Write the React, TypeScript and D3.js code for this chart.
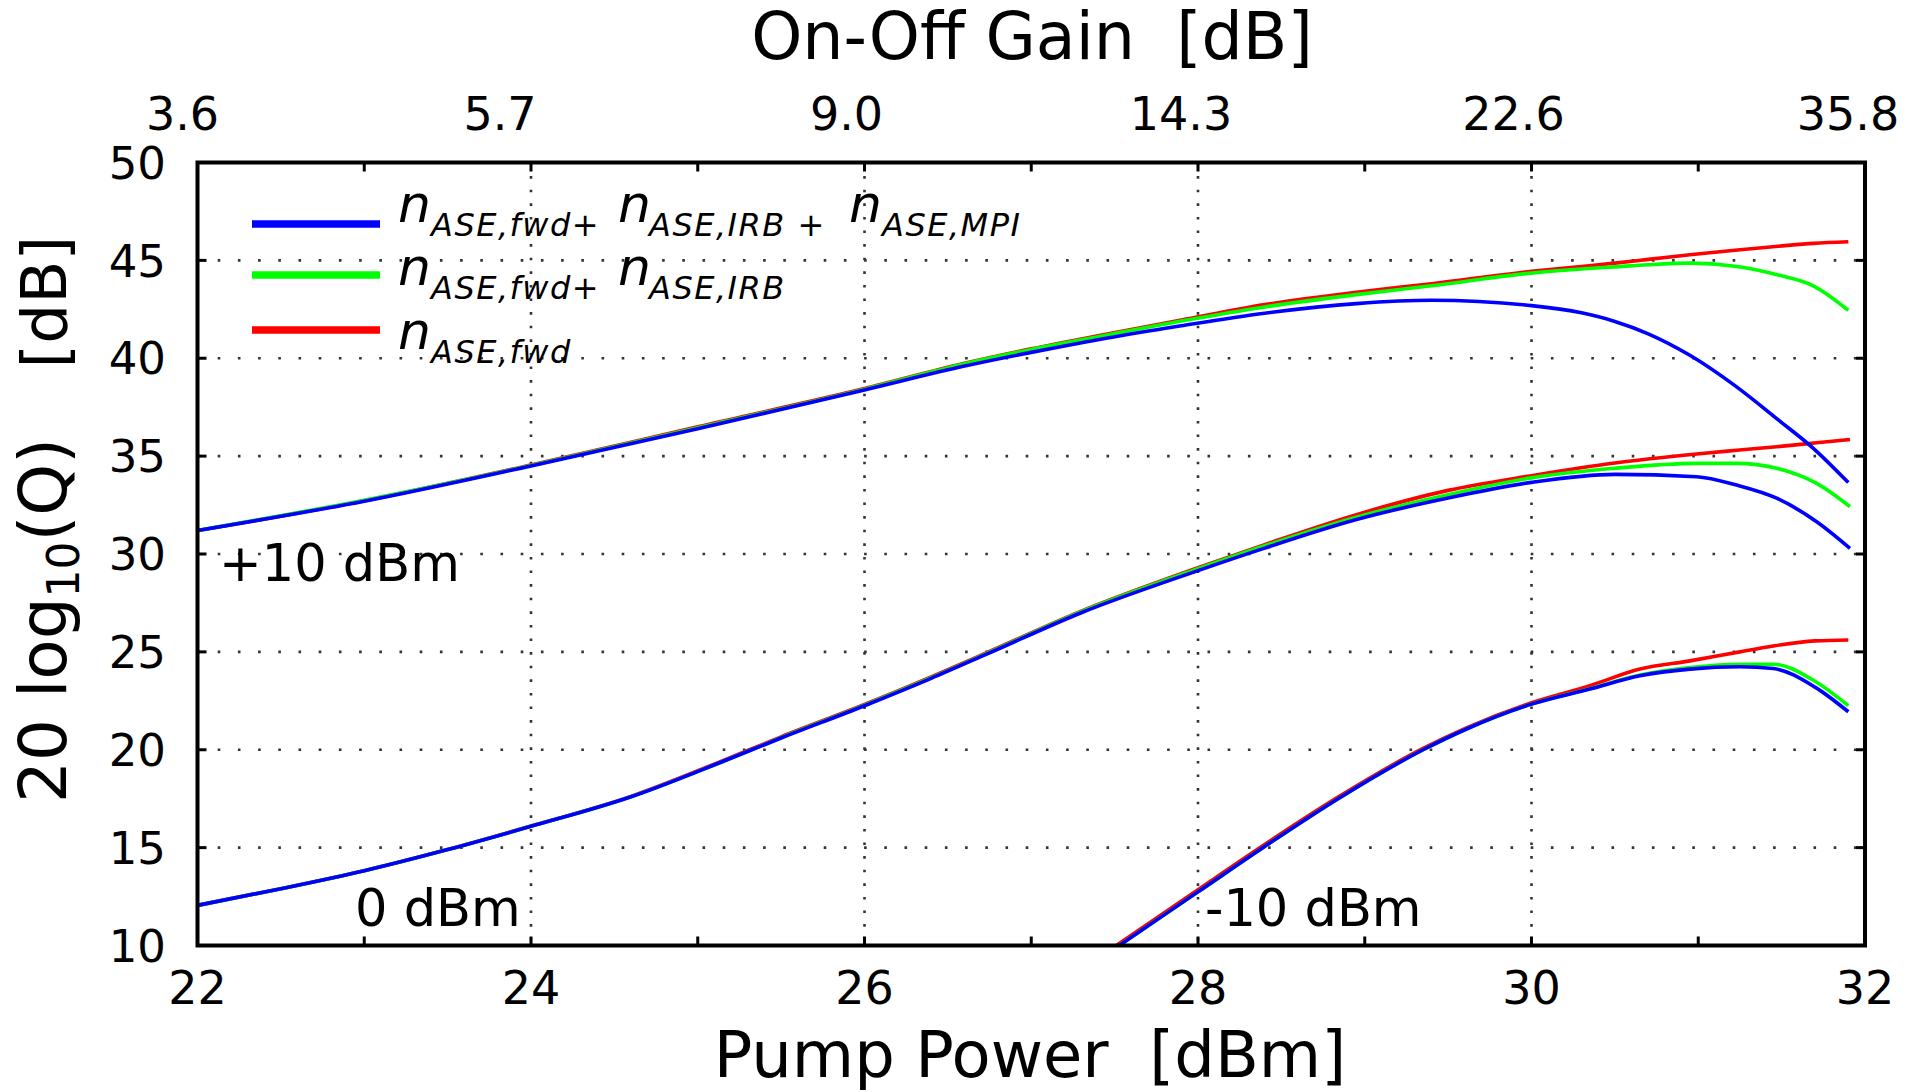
import React from 'react';
import * as d3 from 'd3';

const W = 1923;
const H = 1092;

// axes
const pumpLabelTicks = [22, 24, 26, 28, 30, 32];
const pumpMinorTicks = [22, 23, 24, 25, 26, 27, 28, 29, 30, 31, 32];
const gainLabels = ['3.6', '5.7', '9.0', '14.3', '22.6', '35.8'];
const qTicks = [10, 15, 20, 25, 30, 35, 40, 45, 50];
const qGrid = [15, 20, 25, 30, 35, 40, 45];
const pumpGrid = [24, 26, 28, 30];

// +10 dBm signal
const pumpHigh = [22, 23, 24, 25, 26, 26.6, 27, 27.4, 27.9, 28.4, 28.95, 29.4, 30, 30.3, 30.5, 30.7, 30.95, 31.22, 31.48, 31.69, 31.9];
const qHighAll = [31.2, 32.7, 34.5, 36.4, 38.38, 39.6, 40.3, 40.95, 41.66, 42.3, 42.79, 42.96, 42.69, 42.32, 41.88, 41.25, 40.15, 38.6, 36.85, 35.4, 33.65];
const qHighIrb = [31.2, 32.75, 34.52, 36.45, 38.42, 39.72, 40.45, 41.1, 41.9, 42.62, 43.25, 43.7, 44.35, 44.56, 44.67, 44.78, 44.86, 44.7, 44.25, 43.7, 42.45];
const qHighFwd = [31.2, 32.72, 34.55, 36.5, 38.45, 39.74, 40.48, 41.15, 41.95, 42.74, 43.37, 43.81, 44.44, 44.69, 44.86, 45.05, 45.29, 45.52, 45.72, 45.87, 45.95];

// 0 dBm signal
const pumpMid = [22, 22.5, 23, 23.5, 24, 24.6, 25.15, 25.5, 26, 26.4, 26.75, 27.3, 28, 28.4, 28.95, 29.5, 30, 30.5, 30.99, 31.23, 31.47, 31.71, 31.91];
const qMidAll = [12.05, 12.9, 13.82, 14.9, 16.09, 17.6, 19.4, 20.6, 22.25, 23.65, 24.95, 27.0, 29.15, 30.3, 31.76, 32.86, 33.66, 34.07, 33.95, 33.52, 32.85, 31.65, 30.29];
const qMidIrb = [12.05, 12.9, 13.82, 14.9, 16.09, 17.6, 19.4, 20.62, 22.28, 23.68, 24.98, 27.05, 29.25, 30.42, 31.88, 33.03, 33.89, 34.38, 34.63, 34.63, 34.38, 33.61, 32.42];
const qMidFwd = [12.05, 12.9, 13.82, 14.9, 16.1, 17.62, 19.44, 20.66, 22.31, 23.72, 25.02, 27.08, 29.3, 30.48, 32.01, 33.25, 34.0, 34.65, 35.11, 35.3, 35.48, 35.68, 35.85];

// -10 dBm signal
const pumpLow = [27.45, 28, 28.4, 28.85, 29.35, 29.61, 30, 30.35, 30.65, 30.95, 31.25, 31.45, 31.7, 31.9];
const qLowAll = [9.55, 12.74, 15.06, 17.55, 20.0, 21.06, 22.33, 23.1, 23.78, 24.12, 24.24, 24.15, 23.2, 21.94];
const qLowIrb = [9.55, 12.74, 15.06, 17.55, 20.0, 21.06, 22.33, 23.12, 23.82, 24.2, 24.37, 24.37, 23.5, 22.25];
const qLowFwd = [9.65, 12.85, 15.16, 17.63, 20.07, 21.12, 22.4, 23.27, 24.12, 24.54, 25.0, 25.3, 25.56, 25.61];

const signalLabels = ['+10 dBm', '0 dBm', '-10 dBm'];

const COLORS = { all: '#0000ff', irb: '#00ff00', fwd: '#ff0000' };

// legend rows: [main, subscript] pairs
const legendRows = [
  { key: 'all', parts: [['n', 'ASE,fwd+'], ['n', 'ASE,IRB +'], ['n', 'ASE,MPI']] },
  { key: 'irb', parts: [['n', 'ASE,fwd+'], ['n', 'ASE,IRB']] },
  { key: 'fwd', parts: [['n', 'ASE,fwd']] },
];

const FONT = '"DejaVu Sans", Verdana, sans-serif';

export default function App() {
  const left = 197.5, right = 1865, top = 162.5, bottom = 945.5;

  const x = d3.scaleLinear().domain([22, 32]).range([left, right]);
  const y = d3.scaleLinear().domain([10, 50]).range([bottom, top]);

  const line = d3.line<[number, number]>()
    .x(d => x(d[0]))
    .y(d => y(d[1]))
    .curve(d3.curveMonotoneX);

  const zip = (px: number[], qv: number[]) => px.map((p, i) => [p, qv[i]] as [number, number]);

  // draw order: red, green, blue (blue on top)
  const series = [
    { color: COLORS.fwd, d: [zip(pumpHigh, qHighFwd), zip(pumpMid, qMidFwd), zip(pumpLow, qLowFwd)] },
    { color: COLORS.irb, d: [zip(pumpHigh, qHighIrb), zip(pumpMid, qMidIrb), zip(pumpLow, qLowIrb)] },
    { color: COLORS.all, d: [zip(pumpHigh, qHighAll), zip(pumpMid, qMidAll), zip(pumpLow, qLowAll)] },
  ];

  const labelPos = [
    { x: 219, y: 581 },
    { x: 355, y: 926 },
    { x: 1205, y: 926 },
  ];

  // top gain labels sit a little left of their ticks
  const gainShift = [-15, -31, -18, -17, -18, -17];

  // legend layout
  const legendLineY = [224, 275, 330];
  const legendTextY = [222, 285, 349];
  const mainX = [398, 618, 849];
  const subX = [431, 649, 882];

  const tickLen = 9;

  return (
    <svg width={W} height={H} style={{ position: 'absolute', left: 0, top: 0, background: '#fff' }}
      fontFamily={FONT}>
      <defs>
        <clipPath id="plot-clip">
          <rect x={left} y={top} width={right - left} height={bottom - top} />
        </clipPath>
      </defs>
      <rect x={0} y={0} width={W} height={H} fill="#fff" />

      {/* grid */}
      {qGrid.map(v => (
        <line key={'gy' + v} x1={left} x2={right} y1={y(v)} y2={y(v)}
          stroke="#333" strokeWidth={2.6} strokeDasharray="2.6,17.6" />
      ))}
      {pumpGrid.map(p => (
        <line key={'gx' + p} x1={x(p)} x2={x(p)} y1={top} y2={bottom}
          stroke="#333" strokeWidth={2.6} strokeDasharray="2.6,11" />
      ))}

      {/* curves */}
      <g clipPath="url(#plot-clip)">
        {series.map((s, i) => s.d.map((pts, j) => (
          <path key={`c${i}-${j}`} d={line(pts) || ''} fill="none" stroke={s.color}
            strokeWidth={3.6} strokeLinejoin="round" />
        )))}
      </g>

      {/* ticks */}
      {pumpMinorTicks.map(p => (
        <g key={'tx' + p}>
          <line x1={x(p)} x2={x(p)} y1={bottom} y2={bottom - tickLen} stroke="#000" strokeWidth={3} />
          <line x1={x(p)} x2={x(p)} y1={top} y2={top + tickLen} stroke="#000" strokeWidth={3} />
        </g>
      ))}
      {qTicks.map(v => (
        <g key={'ty' + v}>
          <line x1={left} x2={left + tickLen} y1={y(v)} y2={y(v)} stroke="#000" strokeWidth={3} />
          <line x1={right} x2={right - tickLen} y1={y(v)} y2={y(v)} stroke="#000" strokeWidth={3} />
        </g>
      ))}

      {/* frame */}
      <rect x={left} y={top} width={right - left} height={bottom - top} fill="none"
        stroke="#000" strokeWidth={4} />

      {/* tick labels */}
      {pumpLabelTicks.map(p => (
        <text key={'lx' + p} x={x(p)} y={1004} fontSize={46} textAnchor="middle" fill="#000">{p}</text>
      ))}
      {pumpLabelTicks.map((p, i) => (
        <text key={'lg' + p} x={x(p) + gainShift[i]} y={130} fontSize={46} textAnchor="middle" fill="#000">{gainLabels[i]}</text>
      ))}
      {qTicks.map(v => (
        <text key={'ly' + v} x={166} y={y(v)} dy="0.36em" fontSize={45} textAnchor="end" fill="#000">{v}</text>
      ))}

      {/* axis titles */}
      <text x={1032} y={59} fontSize={65} textAnchor="middle" style={{ whiteSpace: 'pre' }}>On-Off Gain  [dB]</text>
      <text x={1030} y={1077} fontSize={64} textAnchor="middle" style={{ whiteSpace: 'pre' }}>Pump Power  [dBm]</text>
      <g transform="translate(66,0) rotate(-90)">
        <text x={-803} y={0} fontSize={66} textAnchor="start">
          20 log<tspan fontSize={44} dy={13}>10</tspan><tspan dy={-13}>(Q)</tspan>
        </text>
        <text x={-236} y={0} fontSize={63} textAnchor="end">[dB]</text>
      </g>

      {/* signal power labels */}
      {signalLabels.map((t, i) => (
        <text key={t} x={labelPos[i].x} y={labelPos[i].y} fontSize={51} fill="#000">{t}</text>
      ))}

      {/* legend */}
      {legendRows.map((row, r) => (
        <g key={row.key}>
          <line x1={252} x2={380} y1={legendLineY[r]} y2={legendLineY[r]}
            stroke={COLORS[row.key as keyof typeof COLORS]} strokeWidth={7.5} />
          {row.parts.map((pt, k) => (
            <g key={k} fontStyle="italic" fill="#000">
              <text x={mainX[k]} y={legendTextY[r]} fontSize={52}>{pt[0]}</text>
              <text x={subX[k]} y={legendTextY[r] + 14} fontSize={32} letterSpacing={1.5}
                style={{ whiteSpace: 'pre' }}>{pt[1]}</text>
            </g>
          ))}
        </g>
      ))}
    </svg>
  );
}
